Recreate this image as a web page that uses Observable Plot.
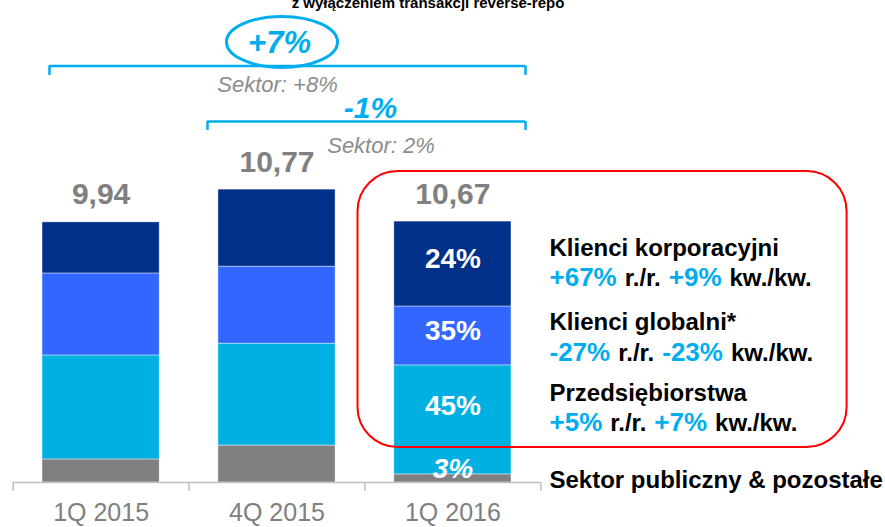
<!DOCTYPE html>
<html><head><meta charset="utf-8">
<script src="https://cdn.jsdelivr.net/npm/d3@7"></script>
<script src="https://cdn.jsdelivr.net/npm/@observablehq/plot@0.6"></script>
<style>html,body{margin:0;padding:0;background:#fff;overflow:hidden}#chart svg{display:block}</style>
</head><body><div id="chart"></div>
<script>
// ---- data ----
const quarters = ["1Q 2015", "4Q 2015", "1Q 2016"];
const segments = ["Sektor publiczny & pozostałe", "Przedsiębiorstwa", "Klienci globalni*", "Klienci korporacyjni"];
const publicOther = [0.88, 1.41, 0.31];
const enterprises = [3.97, 3.89, 4.16];
const globalClients = [3.13, 2.94, 2.25];
const corporateClients = [1.95, 2.94, 3.24];
const totalLabels = ["9,94", "10,77", "10,67"];
const shareLabels = ["3%", "45%", "35%", "24%"]; // 1Q 2016, bottom to top
const noteNames = ["Klienci korporacyjni", "Klienci globalni*", "Przedsiębiorstwa"];
const yoyChange = ["+67%", "-27%", "+5%"];
const qoqChange = ["+9%", "-23%", "+7%"];
const yoyUnit = "r./r.";
const qoqUnit = "kw./kw.";
const header = "z wyłączeniem transakcji reverse-repo";
const growthYear = "+7%", sectorYear = "Sektor: +8%";
const growthQuarter = "-1%", sectorQuarter = "Sektor: 2%";

// ---- build table ----
const seriesValues = [publicOther, enterprises, globalClients, corporateClients];
const rows = [];
quarters.forEach((q, i) => segments.forEach((s, k) => rows.push({quarter: q, segment: s, k, value: seriesValues[k][i]})));
const totals = quarters.map((q, i) => seriesValues.reduce((s, a) => s + a[i], 0));
const lastRows = rows.filter(r => r.quarter === quarters[2]);

// ---- styles ----
const FONT = "'Liberation Sans', Arial, Helvetica, sans-serif";
const colors = ["#808083", "#00b0e2", "#3366ff", "#003087"];
const cyan = "#00aeef";
const grey = "#808080";

const ctx = document.createElement("canvas").getContext("2d");
const tw = (s, size) => { ctx.font = `bold ${size}px 'Liberation Sans'`; return ctx.measureText(s).width; };

const note = (str, q, y, o) => Plot.text([str], {x: () => q, y: () => y, text: d => d, lineAnchor: "bottom", ...o});

const ellipse = {draw(c) {
  const rx = 55.5, ry = 25.5, k = 0.5523;
  c.moveTo(rx, 0);
  c.bezierCurveTo(rx, k * ry, k * rx, ry, 0, ry);
  c.bezierCurveTo(-k * rx, ry, -rx, k * ry, -rx, 0);
  c.bezierCurveTo(-rx, -k * ry, -k * rx, -ry, 0, -ry);
  c.bezierCurveTo(k * rx, -ry, rx, -k * ry, rx, 0);
  c.closePath();
}};

const marks = [];
// bars
marks.push(Plot.barY(rows, {x: "quarter", y: "value", fill: "segment", stroke: "#ffffff", strokeOpacity: 0.55, strokeWidth: 0.75}));
// axis line & separators
marks.push(Plot.ruleY([0], {stroke: "#bfbfbf", strokeWidth: 1.5}));
marks.push(Plot.ruleX(quarters, {dx: -87.95, y1: 0, y2: -0.344, stroke: "#bfbfbf", strokeWidth: 1.5}));
marks.push(Plot.ruleX([quarters[2]], {dx: 87.95, y1: 0, y2: -0.344, stroke: "#bfbfbf", strokeWidth: 1.5}));
marks.push(Plot.axisX({tickSize: 0, tickPadding: 21, fontSize: 25, fill: grey, label: null}));
// totals
marks.push(Plot.text(quarters, {x: d => d, y: (d, i) => totals[i], text: (d, i) => totalLabels[i], dy: -18, lineAnchor: "bottom", fontSize: 30, fontWeight: "bold", fill: grey}));
// share labels on last bar
const labelDy = [-9, -14, -5, -5];
shareLabels.forEach((lab, k) => {
  marks.push(Plot.text(lastRows, Plot.stackY({x: "quarter", y: "value", z: "segment", text: d => d.k === k ? lab : "", dy: labelDy[k], fill: "white", fontWeight: "bold", fontSize: 28, fontStyle: k === 0 ? "italic" : "normal"})));
});
// red box
marks.push(Plot.barY([quarters[2]], {x: d => d, y1: 1.336, y2: 11.87, insetLeft: -36.3, insetRight: -335.6, fill: "none", stroke: "#ff0000", strokeWidth: 2, rx: 40}));
// brackets
marks.push(Plot.ruleY([15.90], {insetLeft: 36, insetRight: 15, stroke: cyan, strokeWidth: 2.5}));
marks.push(Plot.ruleX([quarters[0]], {dx: -51.6, y1: 15.90, y2: 15.54, stroke: cyan, strokeWidth: 2.5}));
marks.push(Plot.ruleX([quarters[2]], {dx: 72.6, y1: 15.90, y2: 15.54, stroke: cyan, strokeWidth: 2.5}));
marks.push(Plot.ruleY([13.78], {insetLeft: 194, insetRight: 15, stroke: cyan, strokeWidth: 2.5}));
marks.push(Plot.ruleX([quarters[1]], {dx: -69.5, y1: 13.78, y2: 13.44, stroke: cyan, strokeWidth: 2.5}));
marks.push(Plot.ruleX([quarters[2]], {dx: 72.6, y1: 13.78, y2: 13.44, stroke: cyan, strokeWidth: 2.5}));
// ellipse + growth annotations
marks.push(Plot.dot([quarters[1]], {x: d => d, y: () => 16.82, dx: 5, symbol: ellipse, fill: "none", stroke: cyan, strokeWidth: 3}));
marks.push(note(header, quarters[1], 18.11, {dx: 151, fontSize: 15, fontWeight: "bold", fill: "#000"}));
marks.push(note(growthYear, quarters[1], 16.41, {dx: 2.5, fontSize: 31, fontWeight: "bold", fontStyle: "italic", fill: cyan}));
marks.push(note(sectorYear, quarters[1], 14.89, {dx: 0.5, fontSize: 22, fontStyle: "italic", fill: "#8c8c8c"}));
marks.push(note(growthQuarter, quarters[1], 13.93, {dx: 93.5, fontSize: 30, fontWeight: "bold", fontStyle: "italic", fill: cyan}));
marks.push(note(sectorQuarter, quarters[1], 12.56, {dx: 104, fontSize: 22, fontStyle: "italic", fill: "#8c8c8c"}));
// right-hand notes
const dx0 = 96.6, gap = 8;
const nameY = [8.665, 5.84, 3.13];
const changeY = [7.52, 4.62, 1.947];
noteNames.forEach((name, i) => {
  marks.push(note(name, quarters[2], nameY[i], {dx: dx0, textAnchor: "start", fontSize: 24, fontWeight: "bold", fill: "#000"}));
  let x = dx0;
  const runs = [[yoyChange[i], 26, cyan], [yoyUnit, 24, "#000"], [qoqChange[i], 26, cyan], [qoqUnit, 24, "#000"]];
  runs.forEach(([s, size, color]) => {
    marks.push(note(s, quarters[2], changeY[i], {dx: x, textAnchor: "start", fontSize: size, fontWeight: "bold", fill: color}));
    x += tw(s, size) + gap;
  });
});
marks.push(note(segments[0], quarters[2], -0.191, {dx: dx0, textAnchor: "start", fontSize: 24, fontWeight: "bold", fill: "#000"}));

const chart = Plot.plot({
  width: 885, height: 527,
  marginLeft: 13, marginRight: 345, marginTop: 0, marginBottom: 45,
  style: {fontFamily: FONT, background: "white"},
  x: {type: "band", domain: quarters, paddingInner: 0.334, paddingOuter: 0.165, round: false, label: null},
  y: {domain: [0, 18.4], axis: null},
  color: {domain: segments, range: colors},
  marks
});
document.getElementById("chart").appendChild(chart);
</script>
</body></html>
